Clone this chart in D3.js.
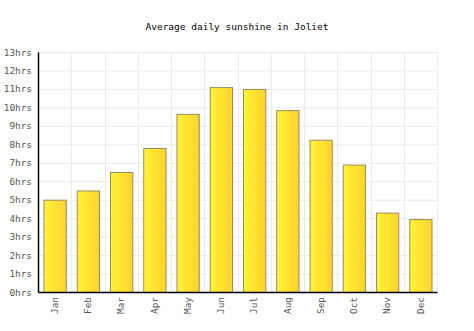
<!DOCTYPE html>
<html><head><meta charset="utf-8">
<script src="https://cdn.jsdelivr.net/npm/d3@7"></script>
<style>body{margin:0;background:#fff}svg{display:block}</style>
</head><body><div id="c"></div>
<script>
const months = ["Jan","Feb","Mar","Apr","May","Jun","Jul","Aug","Sep","Oct","Nov","Dec"];
const sunshine = [5.0,5.5,6.5,7.8,9.65,11.1,11.0,9.85,8.25,6.9,4.3,3.95];
const yTicks = [0,1,2,3,4,5,6,7,8,9,10,11,12,13];
const title = "Average daily sunshine in Joliet";

const W=474,H=331, m={l:38,r:37,t:52,b:39};
const svg=d3.select("#c").append("svg").attr("width",W).attr("height",H);
const defs=svg.append("defs");
const g=defs.append("linearGradient").attr("id","bg").attr("x1","0").attr("x2","1").attr("y1","0").attr("y2","0");
g.append("stop").attr("offset","0").attr("stop-color","#fff335");
g.append("stop").attr("offset","1").attr("stop-color","#ffd22e");

const x=d3.scaleBand().domain(months).range([m.l,W-m.r]).paddingInner(0.33).paddingOuter(0.165);
const xg=d3.scaleBand().domain(months).range([m.l,W-m.r]);
const y=d3.scaleLinear().domain([0,13]).range([H-m.b,m.t]);

const grid=svg.append("g");
grid.selectAll("line.h").data(yTicks).join("line")
 .attr("x1",m.l).attr("x2",W-m.r).attr("y1",d=>y(d)+0.5).attr("y2",d=>y(d)+0.5)
 .attr("stroke","#ebebeb");
grid.selectAll("line.v").data(months).join("line")
 .attr("x1",d=>Math.round(xg(d)+xg.bandwidth())+0.5).attr("x2",d=>Math.round(xg(d)+xg.bandwidth())+0.5)
 .attr("y1",m.t).attr("y2",H-m.b).attr("stroke","#ebebeb");

svg.append("g").selectAll("rect").data(sunshine).join("rect")
 .attr("x",(d,i)=>x(months[i])+0.5).attr("width",x.bandwidth())
 .attr("y",d=>y(d)+0.5).attr("height",d=>y(0)-y(d))
 .attr("fill","url(#bg)").attr("stroke","#9a8c5e").attr("stroke-width",1);

const ya=svg.append("g").attr("transform",`translate(${m.l},0)`)
 .call(d3.axisLeft(y).tickValues(yTicks).tickFormat(d=>d+"hrs").tickSize(0).tickPadding(6));
ya.select(".domain").attr("stroke","#000").attr("stroke-width",1.5);
ya.selectAll("text").attr("font-family","DejaVu Sans Mono, monospace").attr("font-size",9.4).attr("fill","#555");

const xa=svg.append("g").attr("transform",`translate(0,${H-m.b})`)
 .call(d3.axisBottom(xg).tickSize(0));
xa.select(".domain").attr("stroke","#000").attr("stroke-width",1.5);
xa.selectAll("text").attr("font-family","DejaVu Sans Mono, monospace").attr("font-size",9.4).attr("fill","#555")
 .attr("transform","rotate(-90)").attr("text-anchor","end").attr("x",-5).attr("y",0).attr("dy","0.35em");

svg.append("text").attr("x",W/2).attr("y",30).attr("text-anchor","middle")
 .attr("font-family","DejaVu Sans Mono, monospace").attr("font-size",9.5).attr("fill","#000").text(title);
</script></body></html>
